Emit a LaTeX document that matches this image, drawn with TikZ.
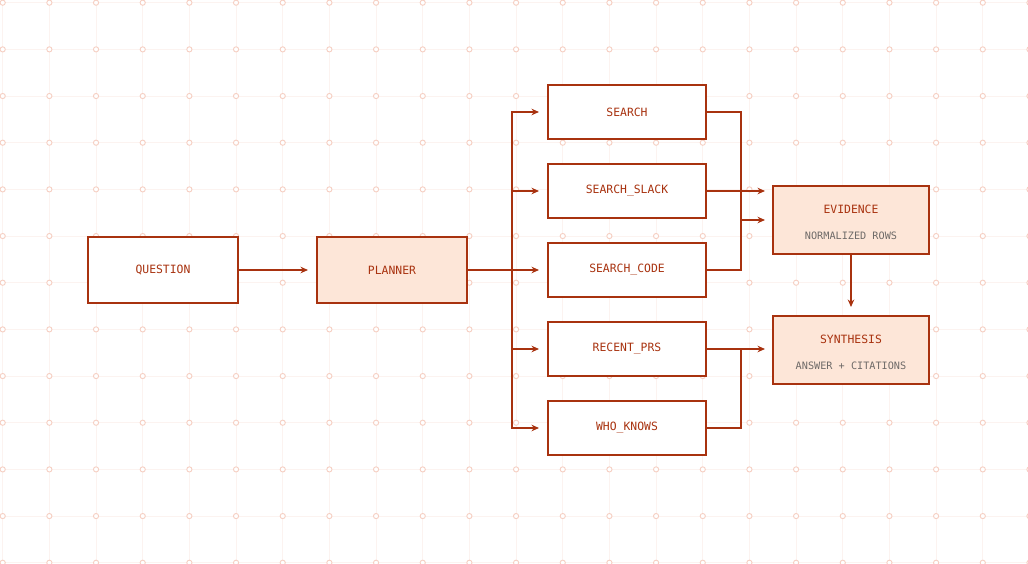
\documentclass[tikz,border=0pt]{standalone}
\usepackage{fontspec}
\setmonofont{DejaVu Sans Mono}
\usetikzlibrary{positioning,arrows.meta}
\definecolor{rust}{HTML}{A8320F}
\definecolor{peach}{HTML}{FDE6D8}
\definecolor{dotc}{HTML}{F6CFC2}
\definecolor{gridc}{HTML}{FCF3F0}
\definecolor{subc}{HTML}{6E6A68}
\begin{document}
\begin{tikzpicture}[x=1pt, y=-1pt, >={Stealth[length=7.5pt,width=6.5pt]},
    box/.style = {draw=rust, line width=2pt, fill=white, text=rust, minimum width=158pt, minimum height=54pt, font=\ttfamily\fontsize{11.4}{13}\selectfont},
    hot/.style = {box, fill=peach, minimum width=156pt, minimum height=68pt, align=center},
    wire/.style = {draw=rust, line width=2pt}]
    % backdrop grid
    \fill[white] (0,0) rectangle (1028,564);
    \useasboundingbox (0,0) rectangle (1028,564);
    \foreach \i in {0,...,22}
        \draw[gridc, line width=0.8pt] ({2.7+46.67*\i},0) -- ({2.7+46.67*\i},564);
    \foreach \j in {0,...,12}
        \draw[gridc, line width=0.8pt] (0,{2.7+46.67*\j}) -- (1028,{2.7+46.67*\j});
    \foreach \i in {0,...,22}
        \foreach \j in {0,...,12}
            \draw[dotc, line width=0.9pt, fill=white] ({2.7+46.67*\i},{2.7+46.67*\j}) circle (2.6pt);
    % nodes
    \node[box, minimum width=150pt, minimum height=66pt] (q) at (163,270) {QUESTION};
    \node[box, fill=peach, minimum width=150pt, minimum height=66pt] (plan) at (392,270) {PLANNER};
    \node[box] (s1) at (627,112) {SEARCH};
    \node[box] (s2) [below=23pt of s1] {SEARCH\_SLACK};
    \node[box] (s3) [below=23pt of s2] {SEARCH\_CODE};
    \node[box] (s4) [below=23pt of s3] {RECENT\_PRS};
    \node[box] (s5) [below=23pt of s4] {WHO\_KNOWS};
    \node[hot] (ev) at (851,220) {\rule{0pt}{14pt}EVIDENCE\\[13pt]{\fontsize{10.2}{12}\selectfont\color{subc}NORMALIZED ROWS}};
    \node[hot] (syn) at (851,350) {\rule{0pt}{14pt}SYNTHESIS\\[13pt]{\fontsize{10.2}{12}\selectfont\color{subc}ANSWER + CITATIONS}};
    \coordinate (fan) at (512,270);
    \coordinate (j1) at (741,220);
    % connectors
    \draw[wire, ->, shorten >=8pt] (q) -- (plan);
    \draw[wire] (plan) -- (fan);
    \foreach \n in {s1,s2,s4,s5}
        \draw[wire, ->, shorten >=8pt] (fan) |- (\n);
    \draw[wire, ->, shorten >=8pt] (fan) -- (fan -| s3.west);
    \draw[wire] (s1) -| (j1) |- (s3);
    \draw[wire, ->, shorten >=7pt] (j1) -- (ev);
    \draw[wire, ->, shorten >=7pt] (s2.east) -- (s2.east -| ev.west);
    \coordinate (j2) at (s4.east -| j1);
    \draw[wire] (s5) -| (j2);
    \draw[wire, ->, shorten >=7pt] (s4.east) -- (s4.east -| syn.west);
    \draw[wire, ->, shorten >=8pt] (ev) -- (syn);
\end{tikzpicture}
\end{document}
